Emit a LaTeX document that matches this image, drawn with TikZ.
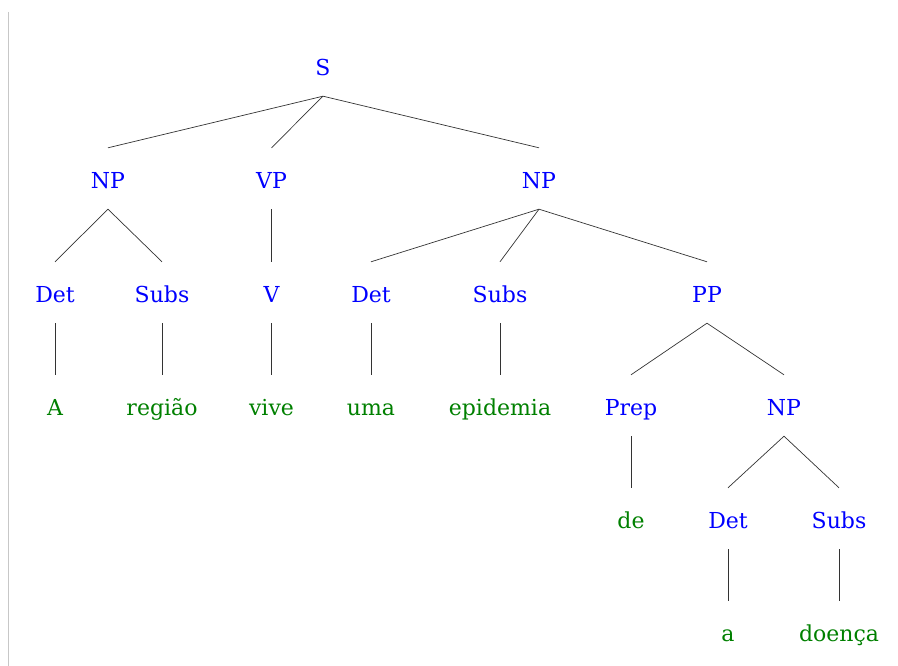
\documentclass[tikz,border=0pt]{standalone}
\usepackage{fontspec}
\setmainfont{DejaVu Serif}
\definecolor{catblue}{RGB}{0,0,255}
\definecolor{wordgreen}{RGB}{0,128,0}
\begin{document}
\begin{tikzpicture}[x=1pt,y=1pt,
  lbl/.style={anchor=base,inner sep=0pt,text height=41pt,text depth=20pt,font=\fontsize{22}{26}\selectfont},
  cat/.style={lbl,text=catblue},
  word/.style={lbl,text=wordgreen},
  edge/.style={draw=black!80,line width=0.7pt}]
\useasboundingbox (0,0) rectangle (898,666);
\draw[black!22,line width=1.5pt] (8.5,654) -- (8.5,0);
% rows: baseline y (px) -> tikz y = 666 - baseline
\node[cat] (S) at (323,590) {S};
\node[cat] (NPa) at (108,477) {NP};
\node[cat] (VP) at (271.5,477) {VP};
\node[cat] (NPb) at (539,477) {NP};
\node[cat] (Deta) at (55,363) {Det};
\node[cat] (Subsa) at (162,363) {Subs};
\node[cat] (V) at (271.5,363) {V};
\node[cat] (Detb) at (371,363) {Det};
\node[cat] (Subsb) at (500,363) {Subs};
\node[cat] (PP) at (707,363) {PP};
\node[word] (A) at (55,250) {A};
\node[word] (regiao) at (162,250) {região};
\node[word] (vive) at (271.5,250) {vive};
\node[word] (uma) at (371,250) {uma};
\node[word] (epidemia) at (500,250) {epidemia};
\node[cat] (Prep) at (631,250) {Prep};
\node[cat] (NPc) at (784,250) {NP};
\node[word] (de) at (631,137) {de};
\node[cat] (Detc) at (728,137) {Det};
\node[cat] (Subsc) at (839,137) {Subs};
\node[word] (a) at (728,24) {a};
\node[word] (doenca) at (839,24) {doença};
\foreach \p/\c in {S/NPa,S/VP,S/NPb,NPa/Deta,NPa/Subsa,VP/V,NPb/Detb,NPb/Subsb,NPb/PP,
  Deta/A,Subsa/regiao,V/vive,Detb/uma,Subsb/epidemia,PP/Prep,PP/NPc,Prep/de,NPc/Detc,NPc/Subsc,Detc/a,Subsc/doenca}
  \draw[edge] (\p.south) -- (\c.north);
\end{tikzpicture}
\end{document}
